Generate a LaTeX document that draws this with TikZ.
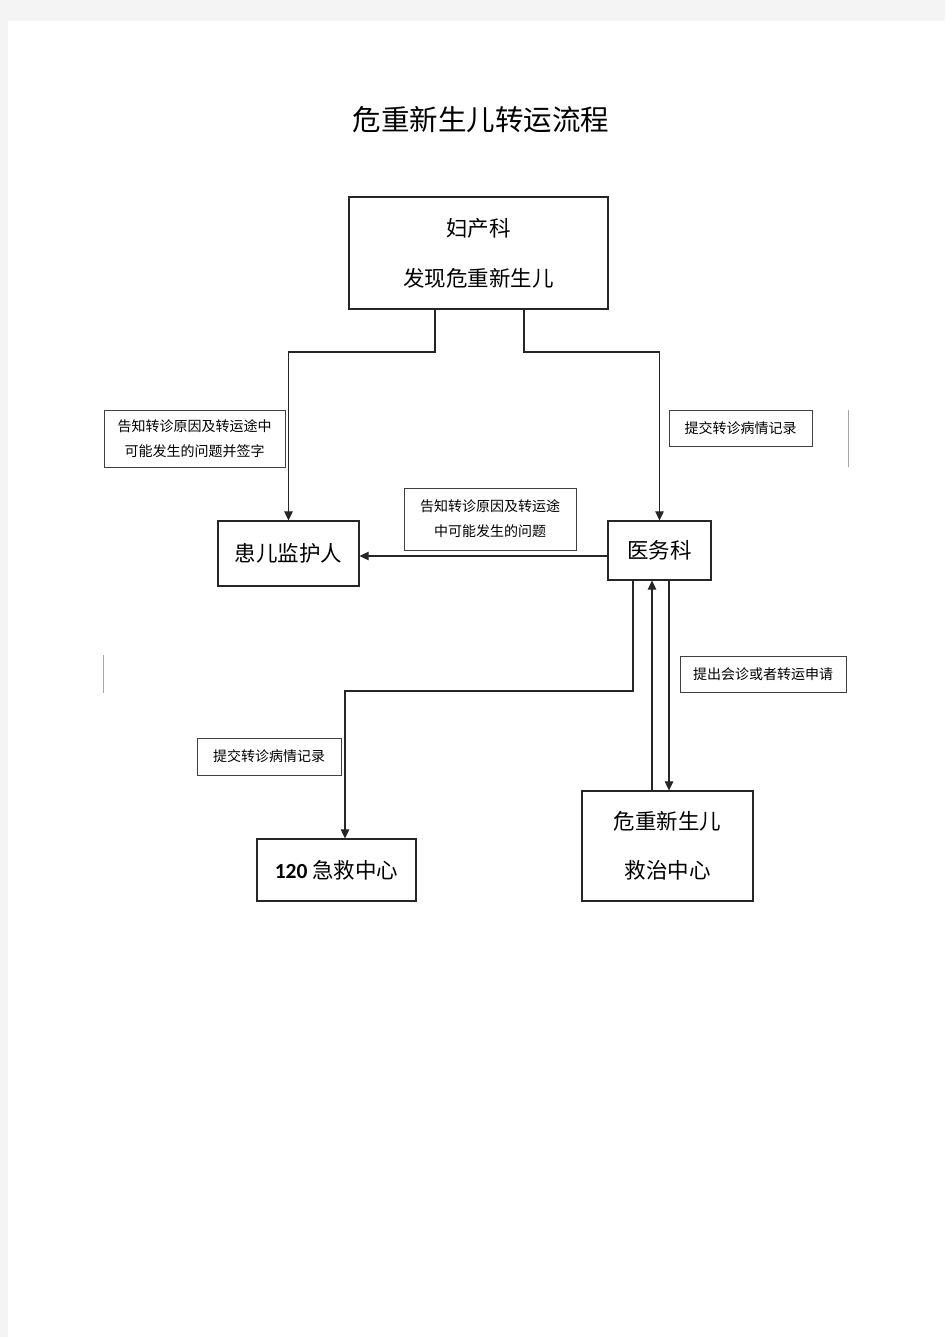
\documentclass[tikz,border=0pt]{standalone}
\usepackage{fontspec}
\usetikzlibrary{arrows.meta}
\newfontfamily\cjk{Noto Sans CJK SC}
\newfontfamily\carl{Carlito}
\definecolor{pagegray}{HTML}{F4F4F4}
\begin{document}
\begin{tikzpicture}[x=1pt,y=-1pt,
  box/.style={draw=black!85,line width=1.2pt,fill=white,inner sep=0pt,font=\cjk\fontsize{21.5}{50}\selectfont,align=center},
  lbl/.style={draw=black!75,line width=1pt,fill=white,inner sep=0pt,font=\cjk\fontsize{14}{25}\selectfont,align=center},
  arr/.style={draw=black!85,line width=1.1pt,-{Triangle[length=9pt,width=8.5pt]}},
  stray/.style={draw=black!35,line width=1pt}]
\useasboundingbox (0,0) rectangle (945,1337);
\fill[pagegray] (0,0) rectangle (945,1337);
\fill[white] (8,21) rectangle (945,1337);
% title
\node[font=\cjk\fontsize{28.5}{30}\selectfont] (title) at (481,120) {危重新生儿转运流程};
% main boxes
\node[box,minimum width=259pt,minimum height=112pt] (fck) at (478.5,253) {妇产科\\发现危重新生儿};
\node[box,minimum width=141pt,minimum height=65pt] (hz) at (288.5,553.5) {患儿监护人};
\node[box,minimum width=103pt,minimum height=59pt] (yw) at (659.5,550.5) {医务科};
\node[box,minimum width=159pt,minimum height=62pt] (jj) at (336.5,870) {{\carl\bfseries 120} 急救中心};
\node[box,minimum width=171pt,minimum height=110pt,font=\cjk\fontsize{21.5}{49}\selectfont] (jz) at (667.5,846) {危重新生儿\\救治中心};
% junction coordinates
\coordinate (jl) at (435,352);
\coordinate (jr) at (524,352);
\coordinate (jm) at (633,691);
\coordinate (k1) at (345,691);
\coordinate (hy) at (0,556);
\coordinate (up) at (652,0);
\coordinate (dn) at (669,0);
% connectors
\draw[arr] (fck.south -| jl) -- (jl) -- (jl -| hz) -- (hz.north);
\draw[arr] (fck.south -| jr) -- (jr) -- (jr -| yw) -- (yw.north);
\draw[arr] (yw.west |- hy) -- (hz.east |- hy);
\draw[arr] (yw.south -| jm) -- (jm) -- (k1) -- (k1 |- jj.north);
\draw[arr] (jz.north -| up) -- (yw.south -| up);
\draw[arr] (yw.south -| dn) -- (jz.north -| dn);
% label boxes
\node[lbl,minimum width=181pt,minimum height=57pt] (l1) at (194.5,438.5) {告知转诊原因及转运途中\\可能发生的问题并签字};
\node[lbl,minimum width=143pt,minimum height=36pt] (l2) at (740.5,428) {提交转诊病情记录};
\node[lbl,minimum width=172pt,minimum height=62pt] (l3) at (490,519) {告知转诊原因及转运途\\中可能发生的问题};
\node[lbl,minimum width=166pt,minimum height=36pt] (l4) at (763,674) {提出会诊或者转运申请};
\node[lbl,minimum width=144pt,minimum height=37pt] (l5) at (269,756.5) {提交转诊病情记录};
% stray marks
\draw[stray] (848,410) -- (848,467);
\draw[stray] (103,655) -- (103,693);
\end{tikzpicture}
\end{document}
